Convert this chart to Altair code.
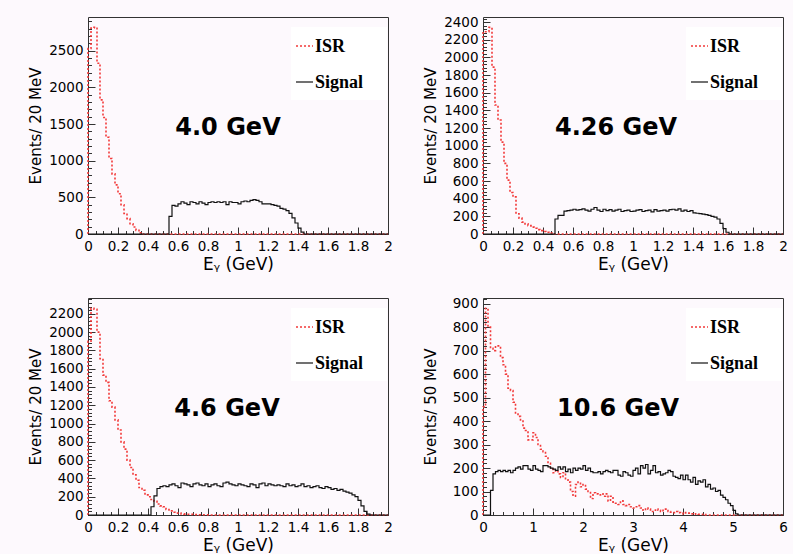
import altair as alt
import pandas as pd

# ---------------- data ----------------
LABELS = ["4.0 GeV", "4.26 GeV", "4.6 GeV", "10.6 GeV"]
Y_TITLES = ["Events/ 20 MeV", "Events/ 20 MeV", "Events/ 20 MeV", "Events/ 50 MeV"]
X_TITLE = "E\u1d67 (GeV)"
LEGEND = ["ISR", "Signal"]

BIN_WIDTH = [0.02, 0.02, 0.02, 0.05]   # GeV
N_BINS = [100, 100, 100, 120]
X_MAX = [2, 2, 2, 6]
Y_MAX = [2960, 2457, 2373, 924]

# ISR counts per bin, starting at bin 0
ISR_40 = [2530, 2810, 2820, 2330, 1830, 1590, 1320, 1030, 820, 670,
          550, 400, 280, 210, 140, 95, 50, 15]
ISR_426 = [2290, 2290, 2340, 1890, 1460, 1290, 1040, 800, 610, 470,
           420, 230, 180, 135, 115, 95, 78, 65, 50, 38, 28, 20, 10]
ISR_46 = [1900, 2260, 2250, 2000, 1710, 1530, 1450, 1250, 1180, 1040,
          930, 800, 720, 600, 520, 440, 380, 300, 270, 220,
          200, 170, 150, 120, 100, 90, 60, 45, 30, 22,
          20, 12, 10, 8, 7, 5, 4, 3, 2, 2]
ISR_106 = [460, 880, 800, 710, 700, 720, 720, 670, 640, 600,
           540, 530, 480, 430, 420, 400, 370, 360, 320, 320,
           350, 330, 300, 280, 270, 250, 220, 200, 180, 190,
           175, 160, 180, 150, 140, 100, 80, 130, 140, 120,
           130, 110, 100, 70, 95, 90, 85, 90, 80, 90,
           60, 80, 55, 50, 45, 60, 45, 40, 45, 35,
           30, 35, 40, 30, 20, 30, 25, 15, 20, 25,
           20, 15, 20, 25, 15, 12, 10, 15, 10, 8,
           5, 10, 8, 5, 3, 5, 3, 2, 3]

# Signal counts per bin, starting at the given first bin
SIG_40_FIRST = 27
SIG_40 = [240, 390, 380, 410, 440, 420, 400, 440, 430, 410,
          440, 420, 400, 430, 440, 430, 440, 430, 440, 400,
          440, 430, 430, 410, 440, 450, 440, 460, 470, 460,
          440, 410, 410, 410, 400, 390, 380, 350, 340, 320,
          280, 220, 150, 80, 25]
SIG_426_FIRST = 24
SIG_426 = [170, 210, 210, 260, 265, 270, 280, 270, 275, 285,
           270, 260, 280, 300, 270, 255, 280, 265, 275, 260,
           270, 280, 255, 265, 270, 255, 260, 270, 275, 255,
           265, 270, 250, 275, 260, 265, 270, 260, 275, 280,
           270, 285, 260, 270, 255, 265, 240, 235, 230, 225,
           220, 210, 200, 190, 170, 120, 60, 20]
SIG_46_FIRST = 21
SIG_46 = [90, 210, 290, 310, 320, 310, 330, 340, 320, 300,
          350, 340, 330, 310, 340, 350, 330, 320, 340, 310,
          330, 340, 320, 310, 350, 360, 340, 330, 320, 340,
          330, 320, 310, 340, 330, 300, 340, 350, 320, 340,
          330, 320, 330, 320, 310, 340, 320, 330, 310, 320,
          340, 310, 320, 300, 310, 320, 300, 290, 310, 300,
          280, 290, 270, 280, 260, 250, 240, 220, 200, 160,
          100, 40, 10]
SIG_106_FIRST = 3
SIG_106 = [105, 175, 185, 190, 185, 190, 185, 190, 180, 190,
           200, 205, 195, 210, 210, 195, 190, 210, 195, 190,
           185, 210, 210, 205, 200, 195, 190, 205, 195, 205,
           185, 195, 180, 200, 190, 200, 195, 210, 190, 200,
           185, 180, 180, 185, 175, 185, 190, 185, 180, 190,
           190, 170, 165, 185, 180, 170, 165, 190, 200, 175,
           210, 200, 215, 175, 190, 210, 180, 185, 170, 175,
           180, 190, 185, 165, 160, 155, 170, 150, 170, 150,
           140, 160, 130, 145, 140, 150, 120, 130, 110, 115,
           100, 105, 85, 75, 65, 50, 40, 20, 5]

ISR = [ISR_40, ISR_426, ISR_46, ISR_106]
SIG = [SIG_40, SIG_426, SIG_46, SIG_106]
SIG_FIRST = [SIG_40_FIRST, SIG_426_FIRST, SIG_46_FIRST, SIG_106_FIRST]

# axis ticks
X_MAJOR_A = [0, 0.2, 0.4, 0.6, 0.8, 1, 1.2, 1.4, 1.6, 1.8, 2]
X_MINOR_A = [round(0.05 * i, 2) for i in range(41)]
X_MAJOR_B = [0, 1, 2, 3, 4, 5, 6]
X_MINOR_B = [round(0.2 * i, 1) for i in range(31)]
X_MAJOR = [X_MAJOR_A, X_MAJOR_A, X_MAJOR_A, X_MAJOR_B]
X_MINOR = [X_MINOR_A, X_MINOR_A, X_MINOR_A, X_MINOR_B]
Y_MAJOR = [list(range(0, 2501, 500)), list(range(0, 2401, 200)),
           list(range(0, 2201, 200)), list(range(0, 901, 100))]
Y_MINOR = [list(range(0, 2901, 100)), list(range(0, 2441, 40)),
           list(range(0, 2361, 40)), list(range(0, 921, 20))]

# ---------------- style / layout ----------------
W, H = 300, 217
FONT = "DejaVu Sans"
SERIF = "Liberation Serif"
RED = "#f23a3a"
BLACK = "#111111"
TICK = "#333333"
BG = "#fdf9fd"
LABEL_X = [140, 133, 139, 135]
LABEL_Y = 118
MAJ, MIN = 7, 3.5


def padded(values, first, n):
    return [0] * first + list(values) + [0] * (n - first - len(values))


def step_frame(values, width):
    rows = [{"i": 0, "e": 0.0, "v": 0}]
    for k, v in enumerate(values):
        rows.append({"i": k + 1, "e": round(k * width, 4), "v": v})
    rows.append({"i": len(values) + 1, "e": round(len(values) * width, 4), "v": values[-1]})
    return pd.DataFrame(rows)


def tick_layer(df, xs, ys, xvals, yvals, size):
    return alt.Chart(df).mark_line(opacity=0).encode(
        x=alt.X("e:Q", scale=xs, axis=alt.Axis(
            orient="bottom", values=xvals, labels=False, domain=False, grid=False,
            ticks=True, tickSize=size, offset=-size, tickColor=TICK, tickWidth=1,
            title=None)),
        y=alt.Y("v:Q", scale=ys, axis=alt.Axis(
            orient="left", values=yvals, labels=False, domain=False, grid=False,
            ticks=True, tickSize=size, offset=-size, tickColor=TICK, tickWidth=1,
            title=None)),
        order="i:Q",
    )


def panel(p):
    n = N_BINS[p]
    w = BIN_WIDTH[p]
    isr_df = step_frame(padded(ISR[p], 0, n), w)
    sig_df = step_frame(padded(SIG[p], SIG_FIRST[p], n), w)
    xs = alt.Scale(domain=[0, X_MAX[p]], nice=False, zero=False)
    ys = alt.Scale(domain=[0, Y_MAX[p]], nice=False, zero=False)

    x_axis = alt.Axis(values=X_MAJOR[p], format="~g", ticks=False, tickSize=0,
                      domain=False, grid=False, labelPadding=5, labelFont=FONT,
                      labelFontSize=13.5, labelColor="black", labelFlush=False,
                      labelOverlap=False, title=X_TITLE, titleFont=FONT,
                      titleFontSize=17, titleFontWeight="normal", titleColor="black",
                      titlePadding=4)
    y_axis = alt.Axis(values=Y_MAJOR[p], format="d", ticks=False, tickSize=0,
                      domain=False, grid=False, labelPadding=5, labelFont=FONT,
                      labelFontSize=13.5, labelColor="black", labelFlush=False,
                      labelOverlap=False, minExtent=38, maxExtent=38,
                      title=Y_TITLES[p], titleFont=FONT, titleFontSize=15,
                      titleFontWeight="normal", titleColor="black", titlePadding=7)

    isr = alt.Chart(isr_df).mark_line(
        interpolate="step-after", color=RED, strokeDash=[2, 2], strokeWidth=1.6
    ).encode(x=alt.X("e:Q", scale=xs, axis=x_axis),
             y=alt.Y("v:Q", scale=ys, axis=y_axis),
             order="i:Q")
    sig = alt.Chart(sig_df).mark_line(
        interpolate="step-after", color=BLACK, strokeWidth=1.2
    ).encode(x=alt.X("e:Q", scale=xs, axis=None),
             y=alt.Y("v:Q", scale=ys, axis=None),
             order="i:Q")

    major = tick_layer(sig_df, xs, ys, X_MAJOR[p], Y_MAJOR[p], MAJ)
    minor = tick_layer(sig_df, xs, ys, X_MINOR[p], Y_MINOR[p], MIN)

    one = pd.DataFrame({"t": [LABELS[p]]})
    box = alt.Chart(one).mark_rect(fill="white").encode(
        x=alt.value(203), x2=alt.value(299), y=alt.value(10), y2=alt.value(83))
    leg_isr_line = alt.Chart(one).mark_rule(color=RED, strokeDash=[2, 2], strokeWidth=1.6).encode(
        x=alt.value(208), x2=alt.value(225), y=alt.value(29))
    leg_sig_line = alt.Chart(one).mark_rule(color=BLACK, strokeWidth=1.2).encode(
        x=alt.value(208), x2=alt.value(225), y=alt.value(65))
    leg_df = pd.DataFrame({"t": LEGEND, "k": [0, 1]})
    leg_txt_isr = alt.Chart(pd.DataFrame({"t": [LEGEND[0]]})).mark_text(
        align="left", baseline="alphabetic", font=SERIF, fontWeight="bold",
        fontSize=18, color="black").encode(text="t:N", x=alt.value(227), y=alt.value(35))
    leg_txt_sig = alt.Chart(pd.DataFrame({"t": [LEGEND[1]]})).mark_text(
        align="left", baseline="alphabetic", font=SERIF, fontWeight="bold",
        fontSize=18, color="black").encode(text="t:N", x=alt.value(227), y=alt.value(71))
    label = alt.Chart(one).mark_text(
        align="center", baseline="alphabetic", font=FONT, fontWeight="bold",
        fontSize=24, color="black").encode(text="t:N", x=alt.value(LABEL_X[p]),
                                           y=alt.value(LABEL_Y))

    return alt.layer(
        box, isr, sig, major, minor, leg_isr_line, leg_sig_line,
        leg_txt_isr, leg_txt_sig, label
    ).resolve_axis(x="independent", y="independent").properties(width=W, height=H)


panels = [panel(i) for i in range(4)]

chart = alt.concat(
    *panels, columns=2, bounds="flush",
    spacing=alt.RowColnumber(row=64, column=95)
).properties(
    padding={"left": 27, "top": 14, "right": 5, "bottom": 0},
    background=BG,
).configure_view(stroke="#333333", strokeWidth=1)

chart.save("out.html", embed_options={"renderer": "svg", "actions": False})
